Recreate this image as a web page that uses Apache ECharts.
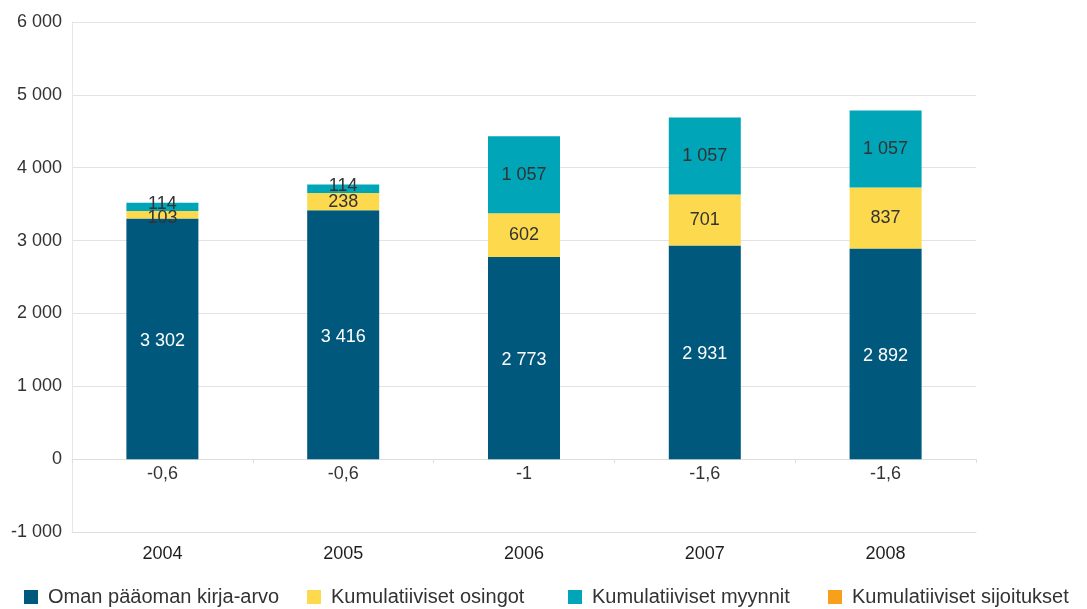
<!DOCTYPE html>
<html>
<head>
<meta charset="utf-8">
<script src="https://cdn.jsdelivr.net/npm/echarts@6/dist/echarts.min.js"></script>
<style>
  html, body { margin: 0; padding: 0; background: #fff; }
  #chart { width: 1087px; height: 609px; }
</style>
</head>
<body>
<div id="chart"></div>
<script>
// Vuodet ja sarjat (milj. euroa)
var years = ['2004', '2005', '2006', '2007', '2008'];
var kirjaArvo = [3302, 3416, 2773, 2931, 2892];
var osingot = [103, 238, 602, 701, 837];
var myynnit = [114, 114, 1057, 1057, 1057];
var sijoitukset = [-0.6, -0.6, -1, -1.6, -1.6];

var seriesNames = [
  'Oman pääoman kirja-arvo',
  'Kumulatiiviset osingot',
  'Kumulatiiviset myynnit',
  'Kumulatiiviset sijoitukset'
];
var colors = ['#00587c', '#fdd94e', '#00a5b8', '#f8a01c'];
var legendLeft = [24, 307, 568, 828];

var FONT = 'Liberation Sans, Arial, sans-serif';
var TEXT = '#333333';

// Suomalainen lukumuoto: välilyönti tuhaterottimena, pilkku desimaalina
function fiNum(v) {
  var neg = v < 0;
  var s = Math.abs(v).toString().split('.');
  var intPart = s[0].replace(/\B(?=(\d{3})+(?!\d))/g, ' ');
  return (neg ? '-' : '') + intPart + (s[1] ? ',' + s[1] : '');
}

// Ohuissa palkinosissa tekstit siirretään hieman erilleen toisistaan
function spreadThin(dy) {
  return function (p) {
    return p.rect.height < 12 ? { dy: dy } : {};
  };
}

function barSeries(idx, data, label, extra) {
  return Object.assign({
    name: seriesNames[idx],
    type: 'bar',
    stack: 'total',
    xAxisIndex: 0,
    data: data,
    barWidth: 72,
    itemStyle: { color: colors[idx] },
    label: Object.assign({
      show: true,
      fontFamily: FONT,
      fontSize: 18,
      formatter: function (p) { return fiNum(p.value); }
    }, label)
  }, extra || {});
}

var chart = echarts.init(document.getElementById('chart'));
chart.setOption({
  animation: false,
  color: colors,
  grid: { left: 72, right: 111, top: 22, bottom: 77, containLabel: false },
  legend: seriesNames.map(function (n, i) {
    return {
      data: [n],
      left: legendLeft[i],
      top: 587,
      padding: 0,
      icon: 'rect',
      itemWidth: 14,
      itemHeight: 14,
      itemGap: 10,
      textStyle: { fontFamily: FONT, fontSize: 20, color: TEXT, padding: [0, 0, 0, 5] },
      selectedMode: false
    };
  }),
  xAxis: [
    {
      type: 'category',
      data: years,
      position: 'bottom',
      axisLine: { onZero: false, lineStyle: { color: '#dedede', width: 1 } },
      axisTick: { show: false },
      axisLabel: { fontFamily: FONT, fontSize: 18, color: '#1e1e1e', margin: 13 }
    },
    {
      // viiva nollatasolla, väkäset luokkien välissä
      type: 'category',
      data: years,
      position: 'bottom',
      axisLine: { onZero: true, lineStyle: { color: '#dedede', width: 1 } },
      axisTick: { show: true, length: 4, lineStyle: { color: '#dedede' } },
      axisLabel: { show: false }
    }
  ],
  yAxis: {
    type: 'value',
    min: -1000,
    max: 6000,
    interval: 1000,
    axisLine: { show: true, lineStyle: { color: '#e6e6e6' } },
    axisTick: { show: false },
    splitLine: { lineStyle: { color: '#e3e3e3', width: 1 } },
    axisLabel: {
      fontFamily: FONT, fontSize: 18, color: TEXT, margin: 10,
      formatter: function (v) { return fiNum(v); }
    }
  },
  series: [
    barSeries(0, kirjaArvo, { position: 'inside', color: '#ffffff', offset: [0, 2] }),
    barSeries(1, osingot, { position: 'inside', color: TEXT, offset: [0, 2] },
      { labelLayout: spreadThin(3) }),
    barSeries(2, myynnit, { position: 'inside', color: TEXT, offset: [0, 2] },
      { labelLayout: spreadThin(-3) }),
    barSeries(3, sijoitukset, { position: 'bottom', distance: 6, color: TEXT })
  ]
});
</script>
</body>
</html>
